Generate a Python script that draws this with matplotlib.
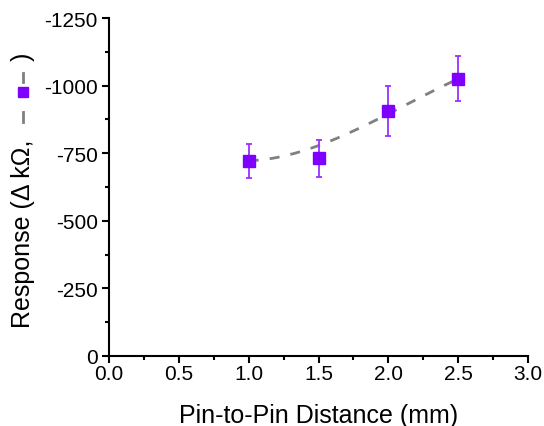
import numpy as np
import matplotlib
matplotlib.use('Agg')
from matplotlib import pyplot as plt
from matplotlib.lines import Line2D
from matplotlib.ticker import MultipleLocator

plt.rcParams['font.family'] = ['Liberation Sans', 'DejaVu Sans']
plt.rcParams['axes.unicode_minus'] = False

# pin spacing (mm) vs. resistance change (kOhm)
distance = [1.0, 1.5, 2.0, 2.5]
response = [-722, -731, -906, -1025]
response_err = [63, 68, 93, 83]

purple = '#7F00FF'
err_purple = '#9B30FF'
dash_gray = '#808080'


def bspline(x, y, n=200):
    # clamped cubic B-spline using the points as control points
    x = np.asarray(x, float)
    y = np.asarray(y, float)
    t = np.linspace(0, 1, n)[:, None]
    w = np.hstack([(1 - t) ** 3, 3 * (1 - t) ** 2 * t, 3 * (1 - t) * t ** 2, t ** 3])
    return w @ x, w @ y


fig = plt.figure(figsize=(5.44, 4.27), dpi=100)
ax = fig.add_axes([0.2004, 0.164, 0.7702, 0.7915])

xs, ys = bspline(distance, response)
ax.plot(xs, ys, color=dash_gray, lw=2, ls=(0, (3.6, 4)), zorder=2)
ax.errorbar(distance, response, yerr=response_err, fmt='none', ecolor=err_purple,
            elinewidth=1.3, capsize=2.5, capthick=1.3, zorder=3)
ax.plot(distance, response, 's', color=purple, ms=8.5, mec=purple, zorder=4)

ax.set_xlim(0, 3.0)
ax.set_ylim(0, -1250)
ax.xaxis.set_major_locator(MultipleLocator(0.5))
ax.xaxis.set_minor_locator(MultipleLocator(0.25))
ax.yaxis.set_major_locator(MultipleLocator(250))
ax.yaxis.set_minor_locator(MultipleLocator(125))
ax.xaxis.set_major_formatter(plt.FormatStrFormatter('%.1f'))

for s in ['top', 'right']:
    ax.spines[s].set_visible(False)
for s in ['left', 'bottom']:
    ax.spines[s].set_linewidth(1.5)
ax.tick_params(which='major', direction='out', length=5, width=1.5, labelsize=15)
ax.tick_params(axis='y', which='major', pad=3)
ax.tick_params(axis='x', which='major', pad=1)
ax.tick_params(which='minor', direction='out', length=3, width=1.5)

ax.set_xlabel('Pin-to-Pin Distance (mm)', fontsize=18, labelpad=14)

# y label built in pieces so the series symbol sits inside it
ylab_x = 23 / 544
fig.text(ylab_x, 0.232, 'Response (\u0394 k\u03a9,', rotation=90, fontsize=18,
         ha='center', va='bottom')
for y0, y1 in [(113, 123), (74, 83)]:
    fig.add_artist(Line2D([ylab_x, ylab_x], [1 - y0 / 427, 1 - y1 / 427],
                          transform=fig.transFigure, color=dash_gray, lw=2))
fig.add_artist(Line2D([ylab_x], [1 - 93 / 427], transform=fig.transFigure, marker='s',
                      color=purple, ms=7.5, ls='none'))
fig.text(ylab_x, 1 - 53 / 427, ')', rotation=90, fontsize=18, ha='center', va='top')

fig.savefig('out.png', dpi=100)
